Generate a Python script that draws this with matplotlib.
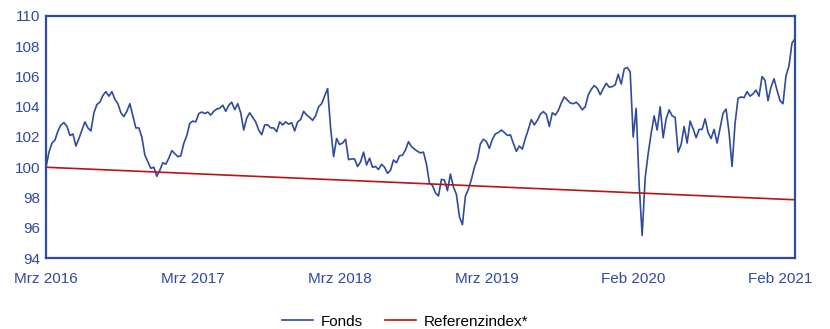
import numpy as np
import matplotlib.pyplot as plt

plt.rcParams['font.family'] = ['Liberation Sans', 'DejaVu Sans']

# weekly fund values, indexed to 100 at the start
fonds = [
    100.0, 101.0, 101.6, 101.8, 102.4, 102.8, 102.95, 102.7, 102.1, 102.2,
    101.4, 101.9, 102.45, 103.0, 102.6, 102.4, 103.6, 104.15, 104.3, 104.75,
    105.0, 104.7, 105.0, 104.5, 104.2, 103.6, 103.35, 103.7, 104.2, 103.4,
    102.6, 102.6, 102.0, 100.8, 100.37, 99.93, 100.0, 99.4, 99.8, 100.3,
    100.2, 100.6, 101.1, 100.9, 100.7, 100.75, 101.58, 102.1, 102.9, 103.05,
    103.0, 103.55, 103.65, 103.55, 103.65, 103.45, 103.7, 103.85, 103.9, 104.1,
    103.7, 104.1, 104.3, 103.8, 104.2, 103.6, 102.46, 103.25, 103.6, 103.3,
    103.0, 102.46, 102.15, 102.8, 102.8, 102.6, 102.6, 102.35, 103.0, 102.8,
    103.0, 102.85, 102.95, 102.4, 103.0, 103.15, 103.7, 103.45, 103.3, 103.1,
    103.4, 104.0, 104.2, 104.7, 105.2, 102.6, 100.7, 101.9, 101.5, 101.6,
    101.85, 100.5, 100.55, 100.55, 100.05, 100.35, 101.0, 100.15, 100.6, 100.0,
    100.05, 99.85, 100.2, 100.0, 99.6, 99.8, 100.48, 100.3, 100.75, 100.8,
    101.15, 101.69, 101.36, 101.2, 101.05, 100.95, 101.0, 100.2, 98.94, 98.8,
    98.3, 98.1, 99.2, 99.15, 98.45, 99.55, 98.7, 98.2, 96.73, 96.2,
    98.1, 98.55, 99.2, 100.0, 100.55, 101.55, 101.85, 101.7, 101.25, 101.85,
    102.2, 102.3, 102.46, 102.3, 102.1, 102.15, 101.58, 101.05, 101.4, 101.2,
    101.9, 102.5, 103.15, 102.8, 103.1, 103.5, 103.68, 103.5, 102.7, 103.6,
    103.45, 103.75, 104.25, 104.65, 104.45, 104.25, 104.2, 104.3, 104.1, 103.8,
    104.0, 104.78, 105.15, 105.4, 105.22, 104.8, 105.2, 105.55, 105.3, 105.33,
    105.45, 106.15, 105.5, 106.5, 106.6, 106.3, 102.0, 103.9, 98.8, 95.5,
    99.3, 100.9, 102.24, 103.4, 102.46, 104.0, 101.95, 103.2, 103.79, 103.4,
    103.3, 101.0, 101.5, 102.7, 101.6, 103.05, 102.55, 101.95, 102.5, 102.5,
    103.2, 102.3, 101.9, 102.5, 101.6, 102.6, 103.57, 103.85, 102.3, 100.05,
    102.9, 104.56, 104.65, 104.6, 105.0, 104.7, 104.85, 105.1, 104.7, 106.0,
    105.75, 104.4, 105.3, 105.85, 105.1, 104.4, 104.2, 106.05, 106.7, 108.2,
    108.5,
]

# benchmark, one value per year
referenz = [100.0, 99.57, 99.14, 98.71, 98.28, 97.85]

tick_idx = [0, 49, 98, 147, 196, 245]
tick_labels = ['Mrz 2016', 'Mrz 2017', 'Mrz 2018', 'Mrz 2019', 'Feb 2020', 'Feb 2021']
y_ticks = [94, 96, 98, 100, 102, 104, 106, 108, 110]

blau = '#2f4b9b'
rot = '#b81515'

x = np.arange(len(fonds))
x_ref = np.linspace(0, len(fonds) - 1, len(referenz))

fig = plt.figure(figsize=(8.3, 3.29), dpi=100)
ax = fig.add_axes([0.0554, 0.2158, 0.9024, 0.7356])

ax.plot(x, fonds, color=blau, lw=1.2, label='Fonds')
ax.plot(x_ref, referenz, color=rot, lw=1.2, label='Referenzindex*')

ax.set_xlim(0, len(fonds) - 1)
ax.set_ylim(94, 110)
ax.set_yticks(y_ticks)
ax.set_xticks(tick_idx)
ax.set_xticklabels(tick_labels)

for s in ax.spines.values():
    s.set_color(blau)
    s.set_linewidth(1.6)

ax.tick_params(axis='both', length=0, labelsize=11, colors=blau)
ax.tick_params(axis='y', pad=4)
ax.tick_params(axis='x', pad=10)

fig.legend(loc='center', bbox_to_anchor=(0.488, 0.022), ncol=2, frameon=False,
           fontsize=11, handlelength=2.0, handletextpad=0.5, columnspacing=1.5)

fig.savefig('out.png', dpi=100)
